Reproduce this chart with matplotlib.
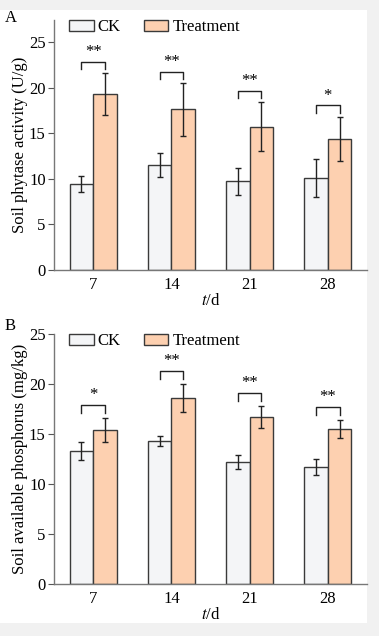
import matplotlib
matplotlib.use("Agg")
import matplotlib.pyplot as plt
import numpy as np
from matplotlib.patches import Rectangle

plt.rcParams['font.family'] = ['Liberation Serif', 'DejaVu Serif']
plt.rcParams['mathtext.fontset'] = 'stix'

days = ['7', '14', '21', '28']
series = ['CK', 'Treatment']

phytase_ck = [9.4, 11.5, 9.7, 10.1]
phytase_ck_err = [0.9, 1.3, 1.5, 2.1]
phytase_trt = [19.3, 17.6, 15.7, 14.4]
phytase_trt_err = [2.3, 2.9, 2.7, 2.4]
phytase_sig = ['**', '**', '**', '*']

avp_ck = [13.3, 14.3, 12.2, 11.7]
avp_ck_err = [0.9, 0.5, 0.7, 0.8]
avp_trt = [15.4, 18.6, 16.7, 15.5]
avp_trt_err = [1.2, 1.4, 1.1, 0.9]
avp_sig = ['*', '**', '**', '**']

W, H = 379, 636
fig = plt.figure(figsize=(W/100, H/100), dpi=100, facecolor='#f1f1f1')
bg = fig.add_axes([0, 0, 1, 1], zorder=-10)
bg.set_xlim(0, W)
bg.set_ylim(H, 0)
bg.axis('off')
bg.add_patch(Rectangle((0, 10), 367, 613, facecolor='white', edgecolor='none'))

ck_color = '#f4f5f7'
trt_color = '#fdd0b0'
edge = '#3a3a3a'
fs = 12

def panel(rect, ck, ckerr, trt, trterr, sig, ylim, ylabel, letter, ly, off, bh):
    ax = fig.add_axes(rect, zorder=1)
    ax.set_facecolor('none')
    x = np.arange(len(days))
    w = 0.3
    ax.bar(x - w/2, ck, w, color=ck_color, edgecolor=edge, linewidth=1.0, label=series[0], zorder=2)
    ax.bar(x + w/2, trt, w, color=trt_color, edgecolor=edge, linewidth=1.0, label=series[1], zorder=2)
    ax.errorbar(x - w/2, ck, yerr=ckerr, fmt='none', ecolor='#222222', elinewidth=1.0, capsize=2.5, capthick=1.0, zorder=3)
    ax.errorbar(x + w/2, trt, yerr=trterr, fmt='none', ecolor='#222222', elinewidth=1.0, capsize=2.5, capthick=1.0, zorder=3)
    for i in range(len(days)):
        base = max(ck[i] + ckerr[i], trt[i] + trterr[i]) + off
        top = base + bh
        ax.plot([x[i] - w/2, x[i] - w/2, x[i] + w/2, x[i] + w/2], [base, top, top, base],
                color='#222222', linewidth=1.0, zorder=3)
        ax.text(x[i], top + 0.15, sig[i], ha='center', va='bottom', fontsize=12)
    ax.set_xlim(-0.5, 3.5)
    ax.set_ylim(*ylim)
    ax.set_xticks(x)
    ax.set_xticklabels(days, fontsize=fs)
    ax.set_yticks([0, 5, 10, 15, 20, 25])
    ax.tick_params(axis='y', labelsize=fs, direction='out', length=4, color='#555555', pad=2)
    ax.tick_params(axis='x', length=0, pad=5)
    for s in ['top', 'right']:
        ax.spines[s].set_visible(False)
    for s in ['left', 'bottom']:
        ax.spines[s].set_color('#777777')
        ax.spines[s].set_linewidth(1.0)
    ax.set_ylabel(ylabel, fontsize=fs, labelpad=0.5)
    ax.set_xlabel(r'$\mathit{t}$/d', fontsize=fs, labelpad=0)
    ax.legend(loc='upper left', bbox_to_anchor=(0.028, 1.03), ncol=2, frameon=False,
              fontsize=fs, handlelength=1.45, handleheight=0.6, handletextpad=0.25,
              columnspacing=1.4, borderaxespad=0)
    fig.text(5/W, 1 - ly/H, letter, fontsize=fs, va='center', ha='left')
    return ax

panel([54/W, (H-270)/H, 313/W, 250/H], phytase_ck, phytase_ck_err, phytase_trt, phytase_trt_err,
      phytase_sig, (0, 27.4), 'Soil phytase activity (U/g)', 'A', 18, 0.45, 0.8)
panel([54/W, (H-584)/H, 313/W, 250/H], avp_ck, avp_ck_err, avp_trt, avp_trt_err,
      avp_sig, (0, 25), 'Soil available phosphorus (mg/kg)', 'B', 326, 0.5, 0.85)

fig.savefig('out.png', dpi=100, facecolor=fig.get_facecolor())
